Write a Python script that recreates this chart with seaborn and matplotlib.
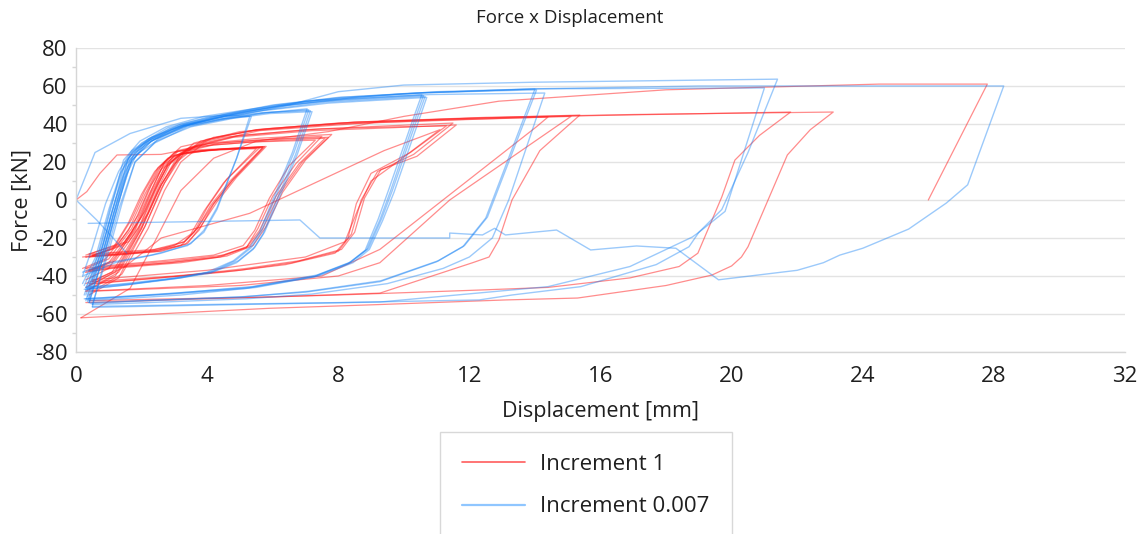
import matplotlib
matplotlib.use("Agg")
import matplotlib.pyplot as plt
from matplotlib.lines import Line2D
from matplotlib.ticker import MultipleLocator
import seaborn as sns
import pandas as pd

# ---------------- data ----------------
title = "Force x Displacement"
x_label = "Displacement [mm]"
y_label = "Force [kN]"
series_names = ["Increment 1", "Increment 0.007"]
x_ticks = [0, 4, 8, 12, 16, 20, 24, 28, 32]
y_ticks = [-80, -60, -40, -20, 0, 20, 40, 60, 80]

# Increment 1 (red) - cycles: displacement [mm] / force [kN]
red_start_disp = [[0, 0.33, 0.73, 1.25, 2.6, 3.2, 4.5, 5.7]]
red_start_force = [[0, 4.4, 14, 23.7, 24, 26, 27, 28]]

red_a_disp = [
    [0.3, 1.2, 1.7, 2.1, 2.5, 2.9, 3.5, 4.5, 5.7, 4.7, 4.1, 3.7, 3.3, 2.4, 1.2, 0.4],
    [0.4, 1.3, 1.9, 2.3, 2.7, 3.1, 3.8, 4.8, 5.8, 4.9, 4.3, 3.8, 3.4, 2.6, 1.4, 0.5],
    [0.5, 1.5, 2.1, 2.5, 2.8, 3.2, 4.0, 5.6, 4.6, 4.0, 3.6, 3.2, 2.3, 1.0, 0.3],
    [0.3, 1.1, 1.6, 2.0, 2.4, 2.8, 3.4, 4.4, 5.5, 4.5, 3.9, 3.5, 3.0, 2.0, 0.8, 0.2],
    [0.4, 1.4, 2.0, 2.4, 2.7, 3.0, 3.6, 4.6, 5.75, 4.8, 4.2, 3.75, 3.35, 2.5, 1.3, 0.4],
    [0.6, 1.6, 2.2, 2.6, 3.0, 3.4, 4.2, 5.7, 4.75, 4.15, 3.7, 3.3, 2.5, 1.1, 0.5],
]
red_a_force = [
    [-29, -24, -10, 5, 17, 23, 25.5, 26.8, 27.8, 10, -3, -15, -22, -26, -27.5, -28.5],
    [-28.5, -23, -8, 8, 19, 24, 26, 27.2, 28.2, 12, -1, -14, -23, -27, -28.5, -29.5],
    [-29.5, -22, -6, 9, 18, 24, 26, 27.5, 11, -4, -17, -24, -27, -29, -30],
    [-30, -26, -12, 3, 15, 22, 25, 26.5, 27, 9, -6, -18, -24, -27.5, -29, -30],
    [-30, -24, -9, 6, 17, 23.5, 25.5, 27, 28, 11, -2, -16, -23, -27, -29, -30],
    [-29, -22, -7, 8, 19, 24.5, 26.5, 27.5, 10, -3, -15, -22, -26.5, -28, -29],
]

red_b_disp = [
    [0.3, 1.0, 1.7, 2.2, 2.6, 3.1, 4.0, 5.5, 7.7, 6.9, 6.2, 5.7, 5.3, 4.5, 3.0, 1.0, 0.3],
    [0.4, 1.1, 1.8, 2.3, 2.7, 3.2, 4.2, 5.8, 7.6, 6.8, 6.1, 5.6, 5.2, 4.3, 2.8, 1.2, 0.4],
    [0.2, 0.9, 1.6, 2.1, 2.5, 3.0, 3.9, 5.3, 7.3, 6.5, 5.9, 5.45, 5.1, 4.2, 2.6, 1.0, 0.3],
    [0.3, 1.0, 1.7, 2.2, 2.6, 3.1, 4.1, 5.6, 7.8, 7.0, 6.3, 5.8, 5.4, 4.6, 3.2, 1.1, 0.3],
    [0.5, 1.2, 1.9, 2.4, 2.8, 3.3, 4.4, 6.0, 7.5, 6.7, 6.0, 5.55, 5.2, 4.4, 2.9, 1.3, 0.5],
]
red_b_force = [
    [-36, -31, -15, 5, 18, 26, 29.5, 31.5, 33, 20, 3, -15, -24, -29, -32, -35, -37],
    [-37, -32, -16, 4, 17, 25, 29, 31, 32.5, 19, 2, -16, -25, -30, -33, -35.5, -37.5],
    [-36, -31, -16, 3, 16, 25, 28.5, 30.5, 31.5, 18, 1, -16, -24, -29, -32, -34.5, -36],
    [-38, -33, -17, 2, 16, 25.5, 30, 32.5, 34.5, 21, 4, -14, -24, -29.5, -33, -36, -38],
    [-37, -32, -15, 5, 18, 26, 30, 32, 33.5, 19, 2, -15, -25, -30, -33, -35, -36.5],
]

red_c_disp = [
    [0.3, 1.0, 1.8, 2.3, 2.7, 3.2, 4.5, 7.0, 9.5, 11.5, 10.3, 9.2, 8.7, 8.4, 8.0, 6.6, 5.0, 3.0, 0.5],
    [0.5, 1.2, 2.0, 2.5, 2.9, 3.5, 5.0, 7.5, 9.8, 11.3, 10.2, 9.0, 8.55, 8.3, 7.9, 6.4, 4.5, 2.5, 0.4],
    [0.3, 1.1, 1.9, 2.4, 2.8, 3.4, 4.8, 7.2, 9.6, 11.6, 10.4, 9.3, 8.8, 8.5, 8.1, 6.8, 5.2, 3.2, 0.6],
    [0.4, 1.5, 2.6, 5.3, 9.4, 11.1, 9.8, 9.0, 8.6, 8.2, 7.0, 4.0, 0.5],
]
red_c_force = [
    [-42, -36, -15, 5, 20, 28, 33, 37, 39, 40.5, 24, 15, 0, -18, -27, -33, -37, -40, -43],
    [-43, -37, -14, 6, 20, 28, 34, 37.5, 38.5, 39, 25, 14, -2, -20, -28, -34, -38, -41, -44],
    [-44, -38, -16, 4, 19, 27, 33, 36.5, 38, 39.5, 23, 16, 1, -17, -26, -32, -36, -40, -44],
    [-45, -35, -20, -7, 26, 37, 20, 10, -5, -22, -30, -37, -42],
]

red_d_disp = [
    [0.3, 1.2, 2.0, 2.5, 3.0, 3.6, 5.0, 8.0, 11.0, 14.4, 14.05, 9.27, 7.5, 4.0, 0.3],
    [0.4, 1.3, 2.1, 2.6, 3.1, 3.8, 5.5, 8.5, 12.0, 15.37, 14.15, 13.3, 12.9, 12.6, 12.1, 9.27, 6.0, 3.0, 0.4],
    [0.5, 1.4, 2.2, 2.7, 3.2, 3.9, 5.6, 8.8, 12.2, 15.1, 11.4, 9.27, 8.0, 5.0, 0.5],
]
red_d_force = [
    [-46, -38, -15, 5, 20, 30, 36, 40, 42, 43.7, 38.6, -26, -40, -45, -48],
    [-47, -38, -14, 6, 21, 31, 37, 41, 43, 44.7, 26, 0, -21, -30, -33, -49, -51, -52, -53],
    [-48, -39, -15, 5, 20, 30, 36.5, 40.5, 42.5, 44, 0, -33, -40, -45, -48],
]

red_e_disp = [
    [0.3, 1.2, 2.0, 2.6, 3.2, 4.0, 5.5, 8.0, 12.0, 16.0, 21.8, 20.85, 20.1, 19.7, 18.97, 18.4, 16.9,
     14.4, 12.3, 8.0, 4.0, 0.3],
    [0.4, 1.3, 2.1, 2.7, 3.3, 4.2, 5.8, 8.5, 12.5, 17.0, 23.1, 22.4, 21.7, 20.5, 20.3, 20.0, 19.4,
     18.0, 15.3, 13.1, 9.3, 5.9, 0.15],
    [0.15, 1.65, 2.4, 3.2, 4.2, 5.5, 7.7, 10.0, 12.9, 18.0, 24.5, 27.8, 26.0],
]
red_e_force = [
    [-48, -40, -15, 8, 24, 32, 37, 40.5, 43, 44.5, 46.3, 34, 21, 1.6, -28, -35, -41,
     -46, -47.4, -50, -52, -54],
    [-50, -41, -14, 9, 25, 33, 37.5, 41, 43.5, 45, 46.3, 37, 23.7, -24.6, -30, -34.7, -39.5,
     -45, -51.6, -52.6, -55, -57, -62],
    [-62, -46.5, -22, 5, 22, 31, 36, 44, 52, 58, 61, 61, 0],
]

# Increment 0.007 (blue) - cycles: displacement [mm] / force [kN]
blue_a_disp = [
    [0, 0.58, 1.65, 3.2, 4.5, 5.35, 4.9, 4.3, 3.9, 3.4, 2.3, 1.0, 0.2],
    [0.2, 0.5, 0.9, 1.3, 1.7, 2.3, 3.2, 4.3, 5.3, 4.9, 4.3, 3.9, 3.5, 2.6, 1.2, 0.2],
    [0, 0.63, 1.55],
]
blue_a_force = [
    [0, 25, 35, 43, 44.5, 44, 22, -5, -17, -24, -29, -33, -38],
    [-40, -25, -2, 15, 26, 33, 39, 42.5, 44, 22, -4, -16, -23, -28, -33, -40],
    [0, -10.5, -28],
]

blue_b_disp = [
    [0.2, 0.6, 1.0, 1.35, 1.7, 2.3, 3.3, 4.6, 5.6, 7.05, 6.6, 6.0, 5.6, 5.3, 4.8, 4.0, 3.0, 1.5, 0.3],
    [0.3, 0.7, 1.1, 1.45, 1.8, 2.4, 3.4, 4.7, 5.8, 7.1, 6.65, 6.05, 5.65, 5.35, 4.85, 4.1, 3.1, 1.6, 0.3],
    [0.25, 0.65, 1.05, 1.4, 1.75, 2.35, 3.35, 4.65, 5.7, 7.15, 6.7, 6.1, 5.7, 5.4, 4.9, 4.1, 3.0, 1.4, 0.25],
    [0.35, 0.75, 1.15, 1.5, 1.85, 2.45, 3.5, 4.8, 5.9, 7.2, 6.75, 6.15, 5.75, 5.45, 4.95, 4.2, 3.2, 1.7, 0.35],
]
blue_b_force = [
    [-44, -30, -5, 14, 25, 32, 39, 43, 45.5, 48, 25, 0, -17, -25, -32, -38, -41, -44, -46],
    [-46, -31, -6, 13, 25, 32, 39, 43, 46, 47.5, 25, 0, -17, -25, -32, -38, -41, -44.5, -47],
    [-45, -30, -4, 15, 26, 33, 40, 44, 46, 47, 24, -1, -18, -26, -33, -38.5, -41.5, -45, -47],
    [-47, -32, -7, 12, 24, 31, 38.5, 43, 45.5, 46.5, 24, -1, -17, -25, -32, -37.5, -41, -44, -46],
]

blue_c_disp = [
    [0.3, 0.8, 1.2, 1.5, 2.0, 2.8, 4.0, 5.5, 7.5, 10.6, 10.3, 9.6, 9.27, 8.87, 8.35, 7.3, 5.3, 3.0, 0.3],
    [0.35, 0.85, 1.25, 1.55, 2.05, 2.85, 4.1, 5.6, 7.6, 10.65, 10.35, 9.65, 9.32, 8.92, 8.4, 7.35, 5.4, 3.1, 0.35],
    [0.25, 0.75, 1.15, 1.45, 1.95, 2.75, 3.9, 5.4, 7.4, 10.55, 10.25, 9.55, 9.22, 8.82, 8.3, 7.25, 5.2, 2.9, 0.25],
    [0.4, 0.9, 1.3, 1.6, 2.1, 2.9, 4.2, 5.7, 7.7, 10.7, 10.4, 9.7, 9.35, 8.95, 8.45, 7.4, 5.5, 3.2, 0.4],
]
blue_c_force = [
    [-50, -25, 0, 20, 30, 38, 43.5, 47.5, 52, 55, 40.5, 5, -10.5, -26, -33, -40, -46, -49, -52],
    [-51, -26, -1, 19, 29.5, 37.5, 43, 47, 51.5, 54.5, 40, 5, -10, -25.5, -32.5, -39.5, -45.5, -49, -52.5],
    [-50, -25, 1, 21, 31, 38.5, 44, 48, 52.5, 55.5, 41, 6, -10, -26.5, -33.5, -40.5, -46.5, -49.5, -52],
    [-52, -27, -2, 18, 29, 37, 43, 47, 51, 54, 39, 4, -11, -26, -33, -40, -46, -50, -53],
]

blue_d_disp = [
    [0.3, 0.8, 1.2, 1.6, 2.2, 3.2, 4.5, 6.0, 8.0, 10.6, 14.0, 12.5, 11.8, 11.0, 9.27, 7.0, 5.0, 2.0, 0.4],
    [0.35, 0.85, 1.25, 1.65, 2.25, 3.25, 4.55, 6.1, 8.1, 10.7, 14.05, 12.55, 11.85, 11.05, 9.3, 7.1, 5.1, 2.1, 0.45],
    [0.4, 0.9, 1.3, 1.7, 2.3, 3.3, 4.6, 6.2, 8.2, 10.8, 14.3, 13.2, 12.7, 12.0, 11.2, 9.5, 7.2, 5.2, 2.2, 0.5],
]
blue_d_force = [
    [-53, -25, 0, 22, 32, 40, 45, 50, 54, 56.5, 58.4, -9.5, -24.6, -32.5, -43, -48.5, -51, -53, -54],
    [-53.5, -25.5, -0.5, 21.5, 31.5, 39.5, 45, 50, 54, 56.5, 58, -9, -24, -32, -42.5, -48, -51, -53, -54.5],
    [-54, -26, -1, 21, 31, 39, 44.5, 49.5, 53, 55.5, 56.3, 0, -20, -30, -36, -44, -49.5, -52, -54, -55],
]

blue_e_disp = [
    [0.4, 0.9, 1.3, 1.7, 2.3, 3.3, 4.6, 6.2, 8.5, 11.0, 14.0, 21.0, 19.8, 19.0, 18.7, 17.7, 15.4,
     13.3, 12.3, 8.0, 4.0, 0.5],
    [0.5, 1.0, 1.4, 1.8, 2.4, 3.4, 4.8, 6.5, 8.0, 10.0, 14.0, 21.4, 20.5, 19.7, 19.0, 18.8, 16.9,
     14.4, 9.27, 5.0, 0.5],
    [0.5, 0.9, 1.3, 1.8, 2.5, 3.5, 5.0, 7.0, 10.0, 14.0, 19.0, 28.3, 27.2, 26.55, 25.4, 24.0, 23.3,
     22.8, 22.0, 19.6, 18.3, 17.1, 15.7, 14.66, 13.1, 12.77, 12.4, 11.4, 11.4, 7.44, 6.83, 0.37],
]
blue_e_force = [
    [-54, -26, -1, 21, 31, 39, 44.5, 49.5, 54, 57, 58.5, 59, -6, -17, -24.6, -34, -45.6,
     -50, -52.6, -54, -55, -56],
    [-55, -27, -2, 20, 30, 38.5, 44, 50, 57, 60.5, 62, 63.6, 25, -5, -17, -19.5, -35,
     -45.6, -53.7, -55, -56.5],
    [-56, -30, -5, 20, 32, 40, 46, 52, 56, 58.5, 60, 60, 8, -1.6, -15.3, -25.4, -29,
     -33, -37, -42, -25.4, -24.2, -26.3, -15.8, -18.4, -14.9, -18.4, -17.4, -20, -20, -10.5, -12.3],
]

red_groups = [(red_start_disp, red_start_force), (red_a_disp, red_a_force),
              (red_b_disp, red_b_force), (red_c_disp, red_c_force),
              (red_d_disp, red_d_force), (red_e_disp, red_e_force)]
blue_groups = [(blue_a_disp, blue_a_force), (blue_b_disp, blue_b_force),
               (blue_c_disp, blue_c_force), (blue_d_disp, blue_d_force),
               (blue_e_disp, blue_e_force)]

rows = []
cycle_id = 0
for name, groups in zip(series_names, [red_groups, blue_groups]):
    for dlist, flist in groups:
        for xs, fs in zip(dlist, flist):
            cycle_id += 1
            for i, (xv, fv) in enumerate(zip(xs, fs)):
                rows.append({"Displacement": xv, "Force": fv, "Series": name,
                             "Cycle": cycle_id, "Order": i})
df = pd.DataFrame(rows)

# ---------------- plot ----------------
sns.set_theme(style="white")
plt.rcParams["font.family"] = ["Open Sans", "DejaVu Sans"]
plt.rcParams["axes.unicode_minus"] = False

fig = plt.figure(figsize=(11.45, 5.34), dpi=100)
ax = fig.add_axes([76 / 1145, 1 - 352 / 534, (1125 - 76) / 1145, (352 - 48) / 534])

red_c = "#ff1a1a"
blue_c = "#1480f5"

sns.lineplot(data=df[df["Series"] == series_names[0]], x="Displacement", y="Force",
             units="Cycle", estimator=None, sort=False, color=red_c, lw=0.9,
             alpha=0.5, ax=ax, legend=False)
sns.lineplot(data=df[df["Series"] == series_names[1]], x="Displacement", y="Force",
             units="Cycle", estimator=None, sort=False, color=blue_c, lw=1.0,
             alpha=0.42, ax=ax, legend=False)

ax.set_xlim(0, 32)
ax.set_ylim(-80, 80)
ax.set_xticks(x_ticks)
ax.set_yticks(y_ticks)
ax.yaxis.set_minor_locator(MultipleLocator(10))
ax.grid(axis="y", which="major", color="#e3e3e3", lw=1.0)
ax.grid(axis="x", visible=False)
ax.set_axisbelow(True)
for s in ["top", "right"]:
    ax.spines[s].set_visible(False)
for s in ["left", "bottom"]:
    ax.spines[s].set_color("#d6d6d6")
    ax.spines[s].set_linewidth(1.0)
ax.tick_params(axis="x", which="major", direction="out", length=5, width=1,
               color="#d6d6d6", labelsize=16, labelcolor="#1f1f1f", pad=5)
ax.tick_params(axis="y", which="major", direction="out", length=4, width=1,
               color="#d6d6d6", labelsize=16, labelcolor="#1f1f1f", pad=2)
ax.tick_params(axis="y", which="minor", direction="out", length=3, width=1,
               color="#d6d6d6", left=True)

ax.set_xlabel(x_label, fontsize=15.5, color="#1f1f1f", labelpad=10)
ax.set_ylabel(y_label, fontsize=15.5, color="#1f1f1f", labelpad=2)
fig.text(570 / 1145, 1 - 18 / 534, title, ha="center", va="center",
         fontsize=13.5, color="#1f1f1f")

handles = [Line2D([], [], color="#ff5c5c", lw=1.2),
           Line2D([], [], color="#8fc6ff", lw=1.6)]
leg = fig.legend(handles, series_names, loc="upper center",
                 bbox_to_anchor=(586 / 1145, 1 - 432 / 534), frameon=True,
                 fontsize=16, handlelength=2.8, handletextpad=0.7, borderpad=1.0,
                 labelspacing=0.95, borderaxespad=0, fancybox=False,
                 edgecolor="#cfcfcf")
leg.get_frame().set_linewidth(1.0)
for t in leg.get_texts():
    t.set_color("#1f1f1f")

fig.savefig("out.png", dpi=100)
